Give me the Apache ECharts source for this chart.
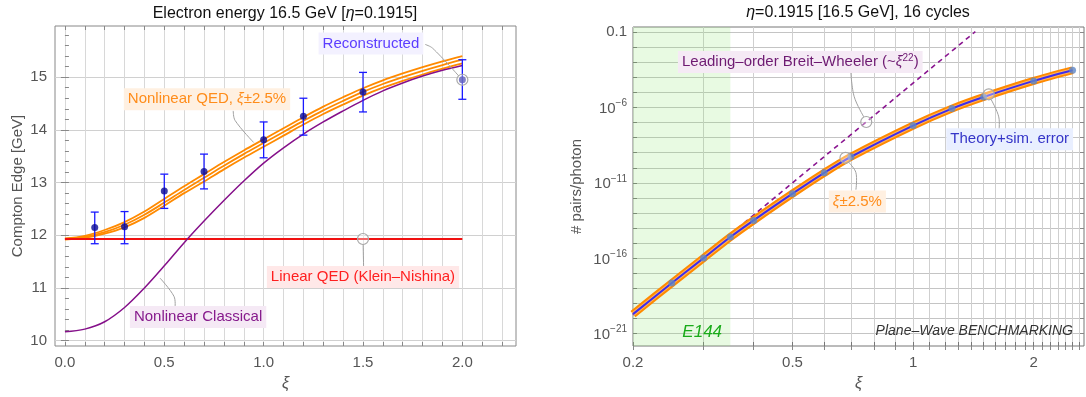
<!DOCTYPE html>
<html>
<head>
<meta charset="utf-8">
<script src="https://cdn.jsdelivr.net/npm/echarts@6/dist/echarts.min.js"></script>
<style>
  html, body { margin: 0; padding: 0; background: #fff; }
  #main { width: 1086px; height: 397px; }
</style>
</head>
<body>
<div id="main"></div>
<script>
// ---- left panel: Compton edge vs xi ----
var xiGrid = [0, 0.1, 0.2, 0.3, 0.4, 0.5, 0.6, 0.7, 0.8, 0.9, 1.0, 1.1, 1.2, 1.3, 1.4, 1.5, 1.6, 1.7, 1.8, 1.9, 2.0];
var nlqedMid = [11.93, 11.97, 12.06, 12.20, 12.39, 12.62, 12.86, 13.09, 13.32, 13.54, 13.75, 13.96, 14.17, 14.37, 14.55, 14.72, 14.87, 15.00, 15.12, 15.23, 15.33];
var nlqedUp  = [11.94, 11.99, 12.10, 12.25, 12.45, 12.69, 12.93, 13.16, 13.39, 13.61, 13.82, 14.03, 14.24, 14.44, 14.62, 14.79, 14.94, 15.07, 15.19, 15.30, 15.40];
var nlqedLow = [11.92, 11.95, 12.03, 12.15, 12.33, 12.56, 12.80, 13.02, 13.25, 13.47, 13.68, 13.89, 14.10, 14.30, 14.48, 14.65, 14.80, 14.93, 15.05, 15.16, 15.26];
var nlClassical = [10.17, 10.22, 10.36, 10.63, 11.00, 11.42, 11.86, 12.27, 12.66, 13.03, 13.37, 13.66, 13.92, 14.15, 14.36, 14.56, 14.74, 14.89, 15.02, 15.13, 15.22];
var linearXi = [0, 2.0];
var linearEdge = [11.93, 11.93];
var recXi   = [0.15, 0.3, 0.5, 0.7, 1.0, 1.2, 1.5, 2.0];
var recEdge = [12.15, 12.16, 12.84, 13.21, 13.81, 14.26, 14.72, 14.95];
var recLow  = [11.84, 11.84, 12.51, 12.88, 13.47, 13.90, 14.34, 14.58];
var recHigh = [12.44, 12.45, 13.16, 13.54, 14.15, 14.60, 15.09, 15.33];

// ---- right panel: pairs per photon ----
var theoryXi = [0.2, 0.25, 0.3, 0.35, 0.4, 0.5, 0.6, 0.7, 1.0, 1.25, 1.5, 2.0, 2.5];
var theoryPairs = [1.9e-20, 2.2e-18, 1.0e-16, 2.5e-15, 3.2e-14, 1.9e-12, 4.6e-11, 5.4e-10, 6.3e-8, 8.5e-7, 5.0e-6, 5.9e-5, 3.0e-4];
var simXi = [0.25, 0.3, 0.35, 0.4, 0.5, 0.6, 0.7, 1.0, 1.25, 1.5, 2.0, 2.5];
var simPairs = [2.2e-18, 1.0e-16, 2.5e-15, 3.2e-14, 1.9e-12, 4.6e-11, 5.4e-10, 6.3e-8, 8.5e-7, 5.0e-6, 5.9e-5, 3.0e-4];
var bwXi = [0.2, 1.43];
var bwPairs = [1.7e-20, 0.11];
var e144Range = [0.2, 0.35];

// tick labels
var leftXLabels = [0, 0.5, 1, 1.5, 2];
var leftYLabels = [10, 11, 12, 13, 14, 15];
var rightXLabels = [0.2, 0.5, 1, 2];
var rightYLabels = [1e-21, 1e-16, 1e-11, 1e-6, 0.1];

var FONT = '"Liberation Sans", Arial, sans-serif';
var GRAY = '#555';
var SMOOTH = 0.35;

var leftXTicks = [], leftYTicks = [], rightXTicks = [], rightYTicks = [];
for (var i = 0; i <= 22; i++) leftXTicks.push(+(i * 0.1).toFixed(1));
for (var i = 50; i <= 79; i++) leftYTicks.push(+(i * 0.2).toFixed(1));
for (var i = 2; i <= 26; i++) rightXTicks.push(i / 10);
for (var i = -21; i <= -1; i++) rightYTicks.push(Math.pow(10, i));

function zip(xs, ys) { return xs.map(function (x, k) { return [x, ys[k]]; }); }

function frameAxis(grid, pos, type, min, max, ticks) {
  return {
    gridIndex: grid, type: type, position: pos, min: min, max: max,
    axisLine: { show: false },
    axisTick: { show: true, inside: true, length: 4, customValues: ticks, lineStyle: { color: '#888' } },
    axisLabel: { show: false },
    splitLine: { show: false }
  };
}

var option = {
  animation: false,
  textStyle: { fontFamily: FONT },
  grid: [
    { left: 55, top: 26, width: 461, height: 320, show: true, borderColor: '#888', borderWidth: 1 },
    { left: 633, top: 27, width: 451, height: 319, show: true, borderColor: '#777', borderWidth: 1 }
  ],
  xAxis: [
    {
      gridIndex: 0, type: 'value', min: -0.05, max: 2.27, position: 'bottom',
      name: 'ξ', nameLocation: 'middle', nameGap: 30,
      nameTextStyle: { color: GRAY, fontSize: 16, fontStyle: 'italic' },
      axisLine: { show: false },
      axisTick: { inside: true, length: 4, customValues: leftXTicks, lineStyle: { color: '#888' } },
      axisLabel: { customValues: leftXLabels, color: GRAY, fontSize: 15, margin: 9,
        formatter: function (v) { return v.toFixed(1); } },
      splitLine: { show: true, lineStyle: { color: '#d8d8d8', width: 1 } }
    },
    frameAxis(0, 'top', 'value', -0.05, 2.27, leftXTicks),
    {
      gridIndex: 1, type: 'log', logBase: 10, min: 0.2, max: 2.67, position: 'bottom',
      name: 'ξ', nameLocation: 'middle', nameGap: 30,
      nameTextStyle: { color: GRAY, fontSize: 16, fontStyle: 'italic' },
      axisLine: { show: false },
      axisTick: { inside: true, length: 4, customValues: rightXTicks, lineStyle: { color: '#777' } },
      axisLabel: { customValues: rightXLabels, color: GRAY, fontSize: 15, margin: 9,
        formatter: function (v) { return String(+v.toPrecision(3)); } },
      splitLine: { show: true, lineStyle: { color: '#cfcfcf', width: 1 } }
    },
    frameAxis(1, 'top', 'log', 0.2, 2.67, rightXTicks)
  ],
  yAxis: [
    {
      gridIndex: 0, type: 'value', min: 9.9, max: 15.97, position: 'left',
      name: 'Compton Edge [GeV]', nameLocation: 'middle', nameGap: 30,
      nameTextStyle: { color: GRAY, fontSize: 15 },
      axisLine: { show: false },
      axisTick: { inside: true, length: 4, customValues: leftYTicks, lineStyle: { color: '#888' } },
      axisLabel: { customValues: leftYLabels, color: GRAY, fontSize: 15, margin: 8 },
      splitLine: { show: false }
    },
    {
      gridIndex: 0, type: 'value', min: 9.9, max: 15.97, position: 'right',
      axisLine: { show: false },
      axisTick: { inside: true, length: 4, customValues: leftYLabels, lineStyle: { color: '#888' } },
      axisLabel: { show: false },
      splitLine: { show: true, lineStyle: { color: '#d0d0d0', width: 1 } }
    },
    {
      gridIndex: 1, type: 'log', logBase: 10, min: 1.45e-22, max: 0.224, position: 'left',
      name: '# pairs/photon', nameLocation: 'middle', nameGap: 49,
      nameTextStyle: { color: GRAY, fontSize: 15 },
      axisLine: { show: false },
      axisTick: { inside: true, length: 4, customValues: rightYTicks, lineStyle: { color: '#777' } },
      axisLabel: {
        customValues: rightYLabels, color: GRAY, fontSize: 15, margin: 6,
        rich: {
          b: { fontSize: 15, lineHeight: 18, verticalAlign: 'bottom', color: GRAY },
          sup: { fontSize: 10, lineHeight: 10, verticalAlign: 'top', color: GRAY }
        },
        formatter: function (v) {
          var e = Math.round(Math.log10(v));
          if (e === -1) return '0.1';
          return '{b|10}{sup|\u2212' + Math.abs(e) + '}';
        }
      },
      splitLine: { show: true, lineStyle: { color: '#c4c4c4', width: 1 } }
    },
    frameAxis(1, 'right', 'log', 1.45e-22, 0.224, rightYTicks)
  ],
  series: [
    { // 0: band base
      type: 'line', xAxisIndex: 0, yAxisIndex: 0, stack: 'qed', symbol: 'none', smooth: SMOOTH,
      data: zip(xiGrid, nlqedLow), lineStyle: { opacity: 0 }, z: 3
    },
    { // 1: band fill
      type: 'line', xAxisIndex: 0, yAxisIndex: 0, stack: 'qed', symbol: 'none', smooth: SMOOTH,
      data: xiGrid.map(function (x, k) { return [x, +(nlqedUp[k] - nlqedLow[k]).toFixed(3)]; }),
      lineStyle: { opacity: 0 }, areaStyle: { color: '#ffb766', opacity: 1 }, z: 3
    },
    {
      type: 'line', xAxisIndex: 0, yAxisIndex: 0, symbol: 'none', smooth: SMOOTH,
      data: zip(xiGrid, nlqedUp), lineStyle: { color: '#ff8a00', width: 1.8 }, z: 4
    },
    {
      type: 'line', xAxisIndex: 0, yAxisIndex: 0, symbol: 'none', smooth: SMOOTH,
      data: zip(xiGrid, nlqedMid), lineStyle: { color: '#ff8a00', width: 1.8 }, z: 4
    },
    {
      type: 'line', xAxisIndex: 0, yAxisIndex: 0, symbol: 'none', smooth: SMOOTH,
      data: zip(xiGrid, nlqedLow), lineStyle: { color: '#ff8a00', width: 1.8 }, z: 4
    },
    {
      type: 'line', xAxisIndex: 0, yAxisIndex: 0, symbol: 'none',
      data: zip(linearXi, linearEdge), lineStyle: { color: '#f01010', width: 1.8 }, z: 4
    },
    {
      type: 'line', xAxisIndex: 0, yAxisIndex: 0, symbol: 'none', smooth: SMOOTH,
      data: zip(xiGrid, nlClassical), lineStyle: { color: '#85108a', width: 1.5 }, z: 4
    },
    {
      type: 'custom', coordinateSystem: 'cartesian2d', xAxisIndex: 0, yAxisIndex: 0, z: 5,
      data: recXi.map(function (x, k) { return [x, recLow[k], recHigh[k]]; }),
      renderItem: function (params, api) {
        var lo = api.coord([api.value(0), api.value(1)]);
        var hi = api.coord([api.value(0), api.value(2)]);
        var c = 4;
        var st = { stroke: '#1a1aff', lineWidth: 1.3 };
        return { type: 'group', children: [
          { type: 'line', shape: { x1: lo[0], y1: lo[1], x2: hi[0], y2: hi[1] }, style: st },
          { type: 'line', shape: { x1: lo[0] - c, y1: lo[1], x2: lo[0] + c, y2: lo[1] }, style: st },
          { type: 'line', shape: { x1: hi[0] - c, y1: hi[1], x2: hi[0] + c, y2: hi[1] }, style: st }
        ] };
      }
    },
    {
      type: 'scatter', xAxisIndex: 0, yAxisIndex: 0, symbolSize: 7, z: 6,
      data: zip(recXi, recEdge), itemStyle: { color: '#0a0a96' }
    },
    // ---- right panel ----
    { // 9: E144 shading
      type: 'line', xAxisIndex: 2, yAxisIndex: 2, data: [], z: 1,
      markArea: { silent: true, itemStyle: { color: 'rgba(140, 230, 110, 0.2)' },
        data: [[{ xAxis: e144Range[0] }, { xAxis: e144Range[1] }]] }
    },
    { // 10: leading-order BW
      type: 'line', xAxisIndex: 2, yAxisIndex: 2, symbol: 'none',
      data: zip(bwXi, bwPairs), lineStyle: { color: '#8a1590', width: 1.6, type: [5, 4] }, z: 3
    },
    {
      type: 'line', xAxisIndex: 2, yAxisIndex: 2, symbol: 'none', smooth: 0.3,
      data: zip(theoryXi, theoryPairs), lineStyle: { color: '#ff8a00', width: 8 }, z: 4
    },
    {
      type: 'line', xAxisIndex: 2, yAxisIndex: 2, symbol: 'none', smooth: 0.3,
      data: zip(theoryXi, theoryPairs), lineStyle: { color: '#ffb45c', width: 4 }, z: 4
    },
    {
      type: 'line', xAxisIndex: 2, yAxisIndex: 2, symbol: 'none', smooth: 0.3,
      data: zip(theoryXi, theoryPairs), lineStyle: { color: '#3c2cf0', width: 2 }, z: 5
    },
    {
      type: 'scatter', xAxisIndex: 2, yAxisIndex: 2, symbolSize: 7, z: 6,
      data: zip(simXi, simPairs), itemStyle: { color: '#5e86c6' }
    }
  ]
};

var chart = echarts.init(document.getElementById('main'));
chart.setOption(option);

// callouts, placed in data coordinates of each panel
var L = 0, R = 10;
var notes = [
  { s: L, text: 'Reconstructed', at: [1.54, 15.64], color: '#5b3dff', bg: '#f3f1ff',
    path: [[1.813, 15.62], [1.85, 15.55], [2.0, 14.95]], ring: true },
  { s: L, text: 'Nonlinear QED, {i|ξ}±2.5%', at: [0.715, 14.58], color: '#ff8c1a', bg: '#fff0e1',
    path: [[0.847, 14.36], [0.856, 14.18], [0.95, 13.76]], ring: false },
  { s: L, text: 'Linear QED (Klein\u2013Nishina)', at: [1.5, 11.21], color: '#ff1f1f', bg: '#ffe8e8',
    path: [[1.503, 11.42], [1.5, 11.93]], ring: true },
  { s: L, text: 'Nonlinear Classical', at: [0.67, 10.45], color: '#861a8c', bg: '#f5e9f5',
    path: [[0.554, 10.62], [0.549, 10.84], [0.478, 11.19]], ring: false },
  { s: R, text: 'Leading\u2013order Breit\u2013Wheeler (~{i|ξ}{s|22})', at: [0.523, 1.07e-3], color: '#6e1a72', bg: '#f5eaf5',
    path: [[0.699, 2.4e-4], [0.713, 5.2e-6], [0.764, 1.1e-7]], ring: true },
  { s: R, text: 'Theory+sim. error', at: [1.742, 7.8e-9], color: '#3535c8', bg: '#e9efff',
    path: [[1.636, 1.9e-8], [1.636, 2.4e-7], [1.545, 7.6e-6]], ring: true },
  { s: R, text: '{i|ξ}±2.5%', at: [0.726, 5.8e-13], color: '#ff8c1a', bg: '#fff0e1',
    path: [[0.72, 3.5e-12], [0.72, 4.8e-11], [0.678, 4.6e-10]], ring: true }
];

function px(s, pt) { return chart.convertToPixel({ seriesIndex: s }, pt); }

var graphics = [
  { type: 'text', x: 285, y: 14, z: 10, style: {
      text: 'Electron energy 16.5 GeV [{i|η}=0.1915]', fontSize: 16, fontFamily: FONT, fill: '#111',
      align: 'center', verticalAlign: 'middle', rich: { i: { fontStyle: 'italic', fontSize: 16 } } } },
  { type: 'text', x: 858, y: 13, z: 10, style: {
      text: '{i|η}=0.1915 [16.5 GeV], 16 cycles', fontSize: 16, fontFamily: FONT, fill: '#111',
      align: 'center', verticalAlign: 'middle', rich: { i: { fontStyle: 'italic', fontSize: 16 } } } }
];

var RING = 5.5;
notes.forEach(function (n) {
  var pts = n.path.map(function (p) { return px(n.s, p); });
  if (n.ring) {
    var a = pts[pts.length - 2], b = pts[pts.length - 1];
    var dx = b[0] - a[0], dy = b[1] - a[1], d = Math.sqrt(dx * dx + dy * dy);
    graphics.push({ type: 'circle', z: 9, shape: { cx: b[0], cy: b[1], r: RING },
      style: { stroke: '#a8a8a8', lineWidth: 1.2, fill: 'rgba(255,255,255,0.35)' } });
    pts[pts.length - 1] = [b[0] - dx / d * RING, b[1] - dy / d * RING];
  }
  graphics.push({ type: 'polyline', z: 9, shape: { points: pts, smooth: 0.35 },
    style: { stroke: '#a0a0a0', lineWidth: 1, fill: null } });
  var c = px(n.s, n.at);
  graphics.push({ type: 'text', x: c[0], y: c[1], z: 10, style: {
    text: n.text, fontSize: 15, lineHeight: 18, fontFamily: FONT, fill: n.color,
    align: 'center', verticalAlign: 'middle', backgroundColor: n.bg, padding: [2, 4, 2, 4],
    rich: { i: { fontStyle: 'italic', fontSize: 15, lineHeight: 18, fill: n.color },
            s: { fontSize: 10, lineHeight: 10, verticalAlign: 'top', fill: n.color } } } });
});

var e144 = px(R, [0.2977, 1.26e-21]);
graphics.push({ type: 'text', x: e144[0], y: e144[1], z: 10, style: {
  text: 'E144', fontSize: 17, fontStyle: 'italic', fontFamily: FONT, fill: '#1aab1a',
  align: 'center', verticalAlign: 'middle' } });
var bench = px(R, [2.506, 1.4e-21]);
graphics.push({ type: 'text', x: bench[0], y: bench[1], z: 10, style: {
  text: 'Plane\u2013Wave BENCHMARKING', fontSize: 14, fontStyle: 'italic', fontFamily: FONT, fill: '#333',
  align: 'right', verticalAlign: 'middle' } });

chart.setOption({ graphic: graphics });
</script>
</body>
</html>
